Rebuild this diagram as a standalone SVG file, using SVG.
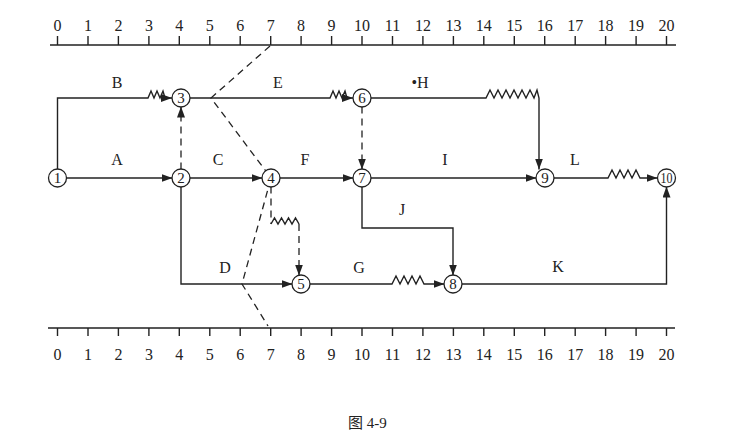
<svg xmlns="http://www.w3.org/2000/svg" width="748" height="437" viewBox="0 0 748 437">
<style>
.ln{fill:none;stroke:#222;stroke-width:1.4}
.dsh{fill:none;stroke:#222;stroke-width:1.3;stroke-dasharray:7,5}
.nd circle{fill:#fff;stroke:#222;stroke-width:1.3}
.nt{font-family:"Liberation Serif",serif;font-size:15px;fill:#222;text-anchor:middle}
.lb{font-family:"Liberation Serif",serif;font-size:16px;fill:#222;text-anchor:middle}
.sc{font-family:"Liberation Serif",serif;font-size:16px;fill:#222;text-anchor:middle}
.cap{font-family:"Liberation Serif","Noto Sans CJK SC",serif;font-size:15px;fill:#222}
</style>
<defs>
<marker id="ar" markerUnits="userSpaceOnUse" markerWidth="11" markerHeight="8" refX="11" refY="4" orient="auto">
<path d="M0,0 L11,4 L0,8 z" fill="#222"/>
</marker>
</defs>
<rect width="748" height="437" fill="#fff"/>
<g id="top-scale">
<path class="ln" d="M50,45 H676 M57.5,36 V45 M88,36 V45 M118.4,36 V45 M148.9,36 V45 M179.3,36 V45 M209.8,36 V45 M240.2,36 V45 M270.7,36 V45 M301.1,36 V45 M331.6,36 V45 M362,36 V45 M392.5,36 V45 M422.9,36 V45 M453.4,36 V45 M483.8,36 V45 M514.3,36 V45 M544.7,36 V45 M575.2,36 V45 M605.6,36 V45 M636.1,36 V45 M666.5,36 V45"/>
<text class="sc" y="31"><tspan x="57.5">0</tspan><tspan x="88">1</tspan><tspan x="118.4">2</tspan><tspan x="148.9">3</tspan><tspan x="179.3">4</tspan><tspan x="209.8">5</tspan><tspan x="240.2">6</tspan><tspan x="270.7">7</tspan><tspan x="301.1">8</tspan><tspan x="331.6">9</tspan><tspan x="362">10</tspan><tspan x="392.5">11</tspan><tspan x="422.9">12</tspan><tspan x="453.4">13</tspan><tspan x="483.8">14</tspan><tspan x="514.3">15</tspan><tspan x="544.7">16</tspan><tspan x="575.2">17</tspan><tspan x="605.6">18</tspan><tspan x="636.1">19</tspan><tspan x="666.5">20</tspan></text>
</g>
<g id="bottom-scale">
<path class="ln" d="M48,328 H675 M57.5,328 V336 M88,328 V336 M118.4,328 V336 M148.9,328 V336 M179.3,328 V336 M209.8,328 V336 M240.2,328 V336 M270.7,328 V336 M301.1,328 V336 M331.6,328 V336 M362,328 V336 M392.5,328 V336 M422.9,328 V336 M453.4,328 V336 M483.8,328 V336 M514.3,328 V336 M544.7,328 V336 M575.2,328 V336 M605.6,328 V336 M636.1,328 V336 M666.5,328 V336"/>
<text class="sc" y="360"><tspan x="57.5">0</tspan><tspan x="88">1</tspan><tspan x="118.4">2</tspan><tspan x="148.9">3</tspan><tspan x="179.3">4</tspan><tspan x="209.8">5</tspan><tspan x="240.2">6</tspan><tspan x="270.7">7</tspan><tspan x="301.1">8</tspan><tspan x="331.6">9</tspan><tspan x="362">10</tspan><tspan x="392.5">11</tspan><tspan x="422.9">12</tspan><tspan x="453.4">13</tspan><tspan x="483.8">14</tspan><tspan x="514.3">15</tspan><tspan x="544.7">16</tspan><tspan x="575.2">17</tspan><tspan x="605.6">18</tspan><tspan x="636.1">19</tspan><tspan x="666.5">20</tspan></text>
</g>
<g id="connectors">
<path class="dsh" d="M270,46 L211,98 L271,178 L242,284 L268,326"/>
<path class="ln" d="M57.5,169.5 V98 H148 l3,-7 l3,7 l3,-7 l3,7 l3,-7 l2,7 L172,98" marker-end="url(#ar)"/>
<path class="dsh" d="M181,169.5 V106.5" marker-end="url(#ar)"/>
<path class="ln" d="M189.5,98 H330 l3,-7 l3,7 l3,-7 l3,7 l3,-7 l2,7 L353,98" marker-end="url(#ar)"/>
<path class="ln" d="M370.5,98 H486 l4,-8 l4,8 l4,-8 l4,8 l4,-8 l4,8 l4,-8 l4,8 l4,-8 l4,8 l4,-8 l4,8 l3,-8 l2,8 V169.5" marker-end="url(#ar)"/>
<path class="ln" d="M66,178 H172.5" marker-end="url(#ar)"/>
<path class="ln" d="M189.5,178 H262.5" marker-end="url(#ar)"/>
<path class="ln" d="M279.5,178 H353.5" marker-end="url(#ar)"/>
<path class="dsh" d="M362,106.5 V169.5" marker-end="url(#ar)"/>
<path class="ln" d="M370.5,178 H536.5" marker-end="url(#ar)"/>
<path class="ln" d="M553.5,178 H608 l4,-8 l4,8 l4,-8 l4,8 l4,-8 l4,8 l4,-8 l4,8 L657.5,178" marker-end="url(#ar)"/>
<path class="ln" d="M362,186.5 V228 H453 V275.5" marker-end="url(#ar)"/>
<path class="ln" d="M181,186.5 V284 H292.5" marker-end="url(#ar)"/>
<path class="dsh" d="M271,186.5 V224"/>
<path class="ln" d="M271,224 l3.5,-6 l3.5,6 l3.5,-6 l3.5,6 l3.5,-6 l3.5,6 l3.5,-6 l3.5,6"/>
<path class="dsh" d="M299,224 V275.5" marker-end="url(#ar)"/>
<path class="ln" d="M309.5,284 H392 l4,-8 l4,8 l4,-8 l4,8 l4,-8 l4,8 l4,-8 l4,8 L444.5,284" marker-end="url(#ar)"/>
<path class="ln" d="M461.5,284 H666.5 V186.5" marker-end="url(#ar)"/>
</g>
<g id="labels">
<text class="lb" x="117" y="88">B</text>
<text class="lb" x="278" y="88">E</text>
<text class="lb" x="420" y="88">•H</text>
<text class="lb" x="117" y="165">A</text>
<text class="lb" x="218" y="165">C</text>
<text class="lb" x="305" y="165">F</text>
<text class="lb" x="445" y="165">I</text>
<text class="lb" x="575" y="165">L</text>
<text class="lb" x="402" y="215">J</text>
<text class="lb" x="225" y="273">D</text>
<text class="lb" x="359" y="273">G</text>
<text class="lb" x="558" y="272">K</text>
</g>
<g id="node1" class="nd"><circle cx="57.5" cy="178" r="9"/><text class="nt" x="57.5" y="183">1</text></g>
<g id="node2" class="nd"><circle cx="181" cy="178" r="9"/><text class="nt" x="181" y="183">2</text></g>
<g id="node3" class="nd"><circle cx="181" cy="98" r="9"/><text class="nt" x="181" y="103">3</text></g>
<g id="node4" class="nd"><circle cx="271" cy="178" r="9"/><text class="nt" x="271" y="183">4</text></g>
<g id="node5" class="nd"><circle cx="301" cy="284" r="9"/><text class="nt" x="301" y="289">5</text></g>
<g id="node6" class="nd"><circle cx="362" cy="98" r="9"/><text class="nt" x="362" y="103">6</text></g>
<g id="node7" class="nd"><circle cx="362" cy="178" r="9"/><text class="nt" x="362" y="183">7</text></g>
<g id="node8" class="nd"><circle cx="453" cy="284" r="9"/><text class="nt" x="453" y="289">8</text></g>
<g id="node9" class="nd"><circle cx="545" cy="178" r="9"/><text class="nt" x="545" y="183">9</text></g>
<g id="node10" class="nd"><circle cx="666.5" cy="178" r="9"/><text class="nt" x="666.5" y="183" font-size="13" textLength="12" lengthAdjust="spacingAndGlyphs">10</text></g>
<text class="cap" x="348" y="428">图 4-9</text>
</svg>
